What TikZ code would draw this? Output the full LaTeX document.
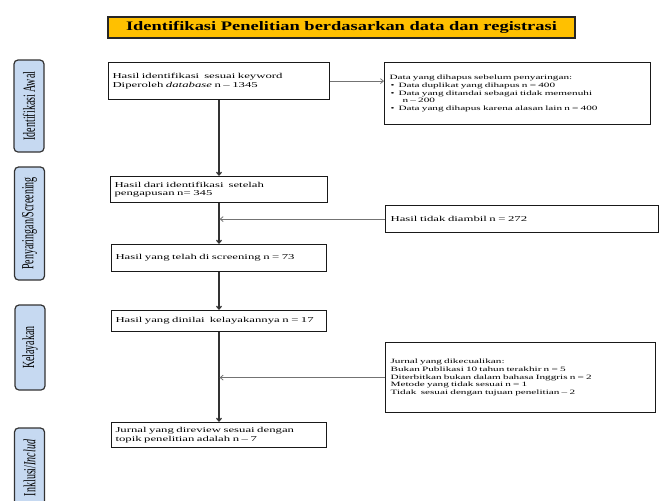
\documentclass[tikz,border=0pt]{standalone}
\usepackage{fontspec}
\setmainfont{Liberation Serif}[FakeStretch=1.7]
\newfontfamily\sidefont{Liberation Serif}
\newfontfamily\titlefont{Liberation Serif}[FakeStretch=1.42]
\usetikzlibrary{arrows.meta}
\definecolor{PrismaYellow}{RGB}{255,192,0}
\definecolor{PrismaBlue}{RGB}{198,217,241}
\definecolor{PrismaGray}{RGB}{50,50,50}
\newcommand{\stagelabel}[1]{\scalebox{1}[1.7]{#1}}
\newcommand{\butir}{\hspace*{1pt}\textbullet\hspace{4pt}}

\begin{document}
\begin{tikzpicture}[
x=1pt,y=-1pt,
titlebox/.style={rectangle,draw=black!85,line width=1.3pt,fill=PrismaYellow,
minimum width=467pt,minimum height=21pt,inner sep=0pt,
font=\titlefont\fontsize{13}{15}\selectfont\bfseries},
stagebox/.style={rectangle,rounded corners=4pt,draw=black!80,line width=1.2pt,
fill=PrismaBlue,minimum height=30pt,inner sep=0pt,rotate=90,
font=\sidefont\fontsize{10}{12}\selectfont},
mainbox/.style={rectangle,draw=black!90,line width=1.2pt,anchor=north,align=left,
inner xsep=4pt,inner ysep=1pt,font=\fontsize{7.5}{8.2}\selectfont},
sidebox/.style={mainbox,anchor=north west,inner xsep=5pt,font=\fontsize{6.6}{7.6}\selectfont},
arrow/.style={-{Straight Barb[length=3pt,width=5pt]},line width=1.2pt,draw=PrismaGray},
sidearrow/.style={arrow,line width=0.8pt,draw=black!55}
]
\useasboundingbox (0,0) rectangle (662,501);
\clip (0,0) rectangle (662,501);

\node[titlebox] (judul) at (341.5,27.5) {Identifikasi Penelitian berdasarkan data dan registrasi};

\node[stagebox,minimum width=92pt] (awal) at (29,106) {\stagelabel{Identifikasi Awal}};
\node[stagebox,minimum width=113pt] (saring) at (29.5,223.5) {\stagelabel{Penyaringan/Screening}};
\node[stagebox,minimum width=85pt] (layak) at (30,347.5) {\stagelabel{Kelayakan}};
\node[stagebox,minimum width=80pt] (inklusi) at (29.5,468) {\stagelabel{Inklusi/\textit{Includ}}};

\node[mainbox,text width=213pt,minimum height=37pt] (hasil) at (219,62)
{Hasil identifikasi\ \ sesuai keyword\\Diperoleh \textit{database} n -- 1345};
\node[mainbox,text width=209pt,minimum height=26pt] (setelah) at (219,176)
{Hasil dari identifikasi\ \ setelah\\pengapusan n= 345};
\node[mainbox,text width=207pt,minimum height=27pt] (screen) at (219,244)
{Hasil yang telah di screening n = 73};
\node[mainbox,text width=207pt,minimum height=21pt] (nilai) at (219,310)
{Hasil yang dinilai\ \ kelayakannya n = 17};
\node[mainbox,text width=207pt,minimum height=25pt] (review) at (219,422)
{Jurnal yang direview sesuai dengan\\topik penelitian adalah n -- 7};

\node[sidebox,text width=256pt,minimum height=62pt] (hapus) at (384,62)
{Data yang dihapus sebelum penyaringan:\\
\butir Data duplikat yang dihapus n = 400\\
\butir Data yang ditandai sebagai tidak memenuhi\\
\hspace*{13pt}n -- 200\\
\butir Data yang dihapus karena alasan lain n = 400};
\node[sidebox,text width=263pt,minimum height=27pt,font=\fontsize{7.5}{8.2}\selectfont] (tidak) at (385,205)
{Hasil tidak diambil n = 272};
\node[sidebox,text width=260pt,minimum height=70pt] (kecuali) at (385,342)
{Jurnal yang dikecualikan:\\
Bukan Publikasi 10 tahun terakhir n = 5\\
Diterbitkan bukan dalam bahasa Inggris n = 2\\
Metode yang tidak sesuai n = 1\\
Tidak\ \ sesuai dengan tujuan penelitian -- 2};

\draw[sidearrow] (hasil.east) -- (hasil.east -| hapus.west);
\draw[arrow] (hasil) -- (setelah); \draw[arrow] (setelah) -- (screen);
\draw[sidearrow,shorten >=0.6pt] (tidak.west) -- (tidak.west -| setelah.south);
\draw[arrow] (screen) -- (nilai); \draw[arrow] (nilai) -- (review);
\draw[sidearrow,shorten >=0.6pt] (kecuali.west) -- (kecuali.west -| nilai.south);
\end{tikzpicture}
\end{document}
